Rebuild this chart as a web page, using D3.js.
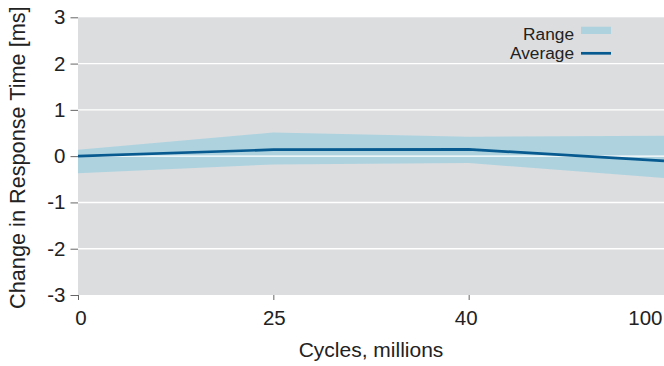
<!DOCTYPE html>
<html>
<head>
<meta charset="utf-8">
<script src="https://cdn.jsdelivr.net/npm/d3@7/dist/d3.min.js"></script>
<style>
  html, body { margin: 0; padding: 0; background: #ffffff; }
  svg { display: block; font-family: "Liberation Sans", Arial, Helvetica, sans-serif; }
</style>
</head>
<body>
<svg id="chart" width="664" height="366"></svg>
<script>
// Response-time drift over switching cycles
const cycles = ["0", "25", "40", "100"];
const average = [0, 0.14, 0.145, -0.1];
const rangeLow = [-0.37, -0.18, -0.15, -0.47];
const rangeHigh = [0.14, 0.51, 0.42, 0.44];
const yTicks = [-3, -2, -1, 0, 1, 2, 3];

const rows = cycles.map((c, i) => ({ c, avg: average[i], lo: rangeLow[i], hi: rangeHigh[i] }));

const svg = d3.select("#chart");
const plotLeft = 78, plotRight = 664, plotTop = 17.3, plotBottom = 295;

const x = d3.scalePoint().domain(cycles).range([plotLeft, plotRight]);
const y = d3.scaleLinear().domain([-3, 3]).range([plotBottom, plotTop]);

// plot background
svg.append("rect")
  .attr("x", plotLeft).attr("y", plotTop)
  .attr("width", plotRight - plotLeft).attr("height", plotBottom - plotTop)
  .attr("fill", "#dcdddf");

// min/max band
svg.append("path")
  .datum(rows)
  .attr("fill", "#aed3df")
  .attr("d", d3.area().x(d => x(d.c)).y0(d => y(d.lo)).y1(d => y(d.hi)));

// horizontal gridlines
svg.append("g")
  .selectAll("line")
  .data(yTicks.filter(t => t > -3 && t < 3))
  .join("line")
  .attr("x1", plotLeft).attr("x2", plotRight)
  .attr("y1", d => y(d)).attr("y2", d => y(d))
  .attr("stroke", "#ffffff").attr("stroke-width", 1.4);

// average line
svg.append("path")
  .datum(rows)
  .attr("fill", "none")
  .attr("stroke", "#075a8f")
  .attr("stroke-width", 2.7)
  .attr("d", d3.line().x(d => x(d.c)).y(d => y(d.avg)));

// y axis (plain hyphen for negatives)
const yAxis = svg.append("g")
  .attr("transform", `translate(${plotLeft},0)`)
  .call(d3.axisLeft(y).tickValues(yTicks).tickSize(7.5).tickPadding(5).tickFormat(d => String(d)));
yAxis.select(".domain").remove();
yAxis.selectAll(".tick line").attr("stroke", "#666").attr("stroke-width", 1);
yAxis.selectAll(".tick text")
  .attr("fill", "#222").style("font-size", "20.5px")
  .style("font-family", "'Liberation Sans', Arial, sans-serif");

// x axis
const xAxis = svg.append("g")
  .attr("transform", `translate(0,${plotBottom})`)
  .call(d3.axisBottom(x).tickSize(5).tickPadding(10));
xAxis.select(".domain").remove();
xAxis.selectAll(".tick line").attr("stroke", "#666").attr("stroke-width", 1);
xAxis.selectAll(".tick text")
  .attr("fill", "#222").style("font-size", "20.5px")
  .style("font-family", "'Liberation Sans', Arial, sans-serif")
  .attr("text-anchor", (d, i) => i === cycles.length - 1 ? "end" : "middle")
  .attr("dx", (d, i) => i === 0 ? 2.5 : (i === cycles.length - 1 ? -2 : (i === 2 ? -3 : 0.5)));

// axis titles
svg.append("text")
  .attr("x", (plotLeft + plotRight) / 2).attr("y", 357)
  .attr("text-anchor", "middle")
  .attr("fill", "#222").style("font-size", "21px")
  .text("Cycles, millions");

svg.append("text")
  .attr("transform", `translate(25,${(plotTop + plotBottom) / 2 + 1.5}) rotate(-90)`)
  .attr("text-anchor", "middle")
  .attr("fill", "#222").style("font-size", "21.7px")
  .text("Change in Response Time [ms]");

// legend
const legend = svg.append("g");
legend.append("rect")
  .attr("x", 581).attr("y", 26.7).attr("width", 30).attr("height", 7.3)
  .attr("fill", "#aed3df");
legend.append("line")
  .attr("x1", 581).attr("x2", 611).attr("y1", 53.3).attr("y2", 53.3)
  .attr("stroke", "#075a8f").attr("stroke-width", 2.7);
legend.append("text")
  .attr("x", 574).attr("y", 40).attr("text-anchor", "end")
  .attr("fill", "#222").style("font-size", "17.3px").text("Range");
legend.append("text")
  .attr("x", 574).attr("y", 59).attr("text-anchor", "end")
  .attr("fill", "#222").style("font-size", "17.3px").text("Average");
</script>
</body>
</html>
